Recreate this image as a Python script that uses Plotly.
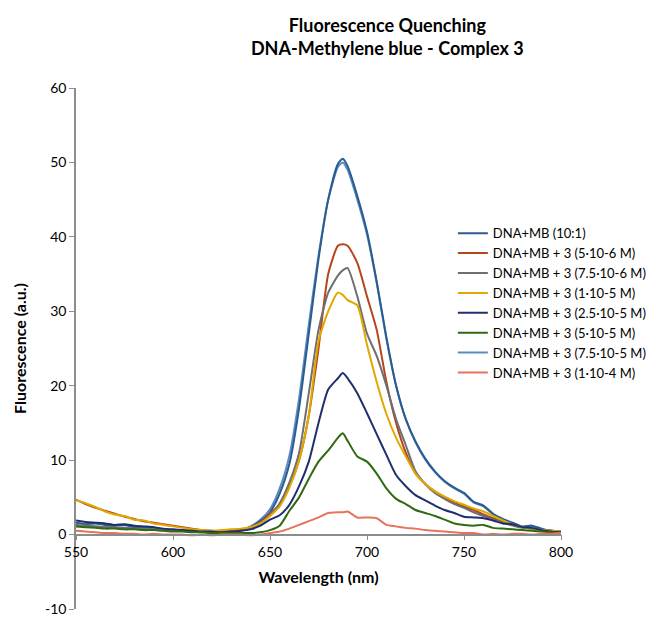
import plotly.graph_objects as go

wavelength = [550, 555, 560, 565, 570, 575, 580, 585, 590, 595, 600, 605, 610, 615, 620, 625,
              630, 635, 640, 645, 650, 655, 660, 665, 670, 675, 680, 685, 687.5, 690, 695, 700,
              705, 710, 715, 720, 725, 730, 735, 740, 745, 750, 755, 760, 765, 770, 775, 780,
              785, 790, 795, 800]

dna_mb = [1.6, 1.4, 1.5, 1.3, 1.2, 1.3, 1.0, 0.9, 0.9, 0.7, 0.6, 0.5, 0.5, 0.4, 0.4, 0.4,
          0.5, 0.6, 1.0, 1.8, 3.0, 5.5, 9.5, 17.0, 27.0, 37.0, 45.0, 49.8, 50.5, 49.5, 45.5, 40.7,
          34.0, 26.5, 20.0, 15.5, 12.5, 10.2, 8.5, 7.2, 6.3, 5.6, 4.4, 3.9, 2.8, 2.1, 1.6, 1.1,
          1.2, 0.8, 0.5, 0.4]

c_5e6 = [4.7, 4.1, 3.6, 3.2, 2.8, 2.4, 2.1, 1.8, 1.6, 1.4, 1.2, 1.0, 0.8, 0.6, 0.5, 0.5,
         0.6, 0.7, 1.0, 1.6, 2.8, 4.0, 6.5, 10.0, 16.0, 25.0, 35.0, 38.8, 39.0, 38.8, 36.5, 32.0,
         27.5, 20.5, 15.0, 11.0, 8.2, 6.8, 5.8, 5.0, 4.3, 3.8, 3.3, 2.7, 2.2, 1.7, 1.3, 1.0,
         0.8, 0.6, 0.5, 0.4]

c_75e6 = [1.3, 1.2, 1.1, 1.0, 1.0, 0.9, 0.8, 0.8, 0.7, 0.6, 0.5, 0.5, 0.4, 0.3, 0.3, 0.3,
          0.4, 0.5, 0.9, 1.5, 2.6, 4.2, 7.0, 11.0, 19.0, 27.5, 32.5, 34.8, 35.5, 35.8, 32.0, 27.0,
          24.0, 20.0, 15.5, 12.0, 8.5, 6.8, 5.6, 4.8, 4.1, 3.6, 3.0, 2.5, 2.0, 1.6, 1.2, 0.9,
          0.8, 0.6, 0.5, 0.4]

c_1e5 = [4.6, 4.2, 3.7, 3.1, 2.7, 2.5, 2.0, 1.9, 1.5, 1.3, 1.1, 0.9, 0.7, 0.6, 0.5, 0.6,
         0.7, 0.8, 1.0, 1.5, 2.5, 3.8, 6.3, 10.0, 16.0, 26.0, 30.0, 32.5, 32.2, 31.5, 30.8, 25.5,
         20.5, 16.2, 13.0, 10.5, 8.2, 6.8, 5.8, 5.1, 4.5, 4.0, 3.5, 3.1, 2.5, 1.9, 1.4, 1.0,
         0.8, 0.6, 0.5, 0.4]

c_25e5 = [1.9, 1.7, 1.6, 1.5, 1.3, 1.4, 1.2, 1.1, 1.0, 0.8, 0.7, 0.6, 0.5, 0.4, 0.4, 0.3,
          0.4, 0.5, 0.7, 1.2, 2.0, 2.6, 4.0, 6.5, 9.8, 15.0, 19.5, 21.0, 21.7, 21.0, 19.0, 16.3,
          13.5, 10.7, 8.0, 6.5, 5.3, 4.6, 3.9, 3.3, 2.9, 2.4, 2.3, 2.2, 1.9, 1.5, 1.4, 1.0,
          0.9, 0.6, 0.4, 0.3]

c_5e5 = [1.1, 1.0, 0.9, 0.8, 0.8, 0.7, 0.7, 0.6, 0.6, 0.5, 0.4, 0.4, 0.3, 0.3, 0.2, 0.2,
         0.2, 0.2, 0.2, 0.3, 0.6, 1.2, 3.2, 5.0, 7.5, 9.8, 11.3, 13.0, 13.6, 12.6, 10.5, 9.8,
         8.2, 6.2, 4.8, 4.1, 3.3, 2.9, 2.5, 2.0, 1.5, 1.3, 1.2, 1.3, 0.9, 0.8, 0.7, 0.6,
         0.5, 0.4, 0.3, 0.2]

c_75e5 = [1.2, 1.1, 1.1, 1.0, 0.9, 0.9, 0.8, 0.7, 0.7, 0.6, 0.5, 0.5, 0.4, 0.4, 0.3, 0.3,
          0.4, 0.6, 1.1, 2.0, 3.4, 6.2, 10.6, 18.3, 28.2, 37.5, 45.0, 49.4, 50.0, 49.0, 45.0, 40.3,
          33.8, 26.3, 20.0, 15.5, 12.4, 10.1, 8.4, 7.1, 6.2, 5.5, 4.3, 3.8, 2.7, 2.0, 1.5, 1.0,
          1.1, 0.7, 0.5, 0.4]

c_1e4 = [0.5, 0.4, 0.3, 0.2, 0.2, 0.1, 0.1, 0.0, 0.1, 0.0, 0.0, 0.0, -0.1, 0.0, -0.1, 0.0,
         0.0, 0.0, -0.1, 0.0, 0.2, 0.4, 0.8, 1.3, 1.8, 2.3, 2.9, 3.0, 3.0, 3.1, 2.3, 2.3,
         2.2, 1.3, 1.1, 0.9, 0.8, 0.6, 0.5, 0.4, 0.3, 0.2, 0.2, 0.0, 0.1, 0.0, 0.1, 0.1,
         0.0, 0.1, 0.1, 0.2]

series_names = ["DNA+MB (10:1)", "DNA+MB + 3 (5·10-6 M)", "DNA+MB + 3 (7.5·10-6 M)",
                "DNA+MB + 3 (1·10-5 M)", "DNA+MB + 3 (2.5·10-5 M)", "DNA+MB + 3 (5·10-5 M)",
                "DNA+MB + 3 (7.5·10-5 M)", "DNA+MB + 3 (1·10-4 M)"]
series_values = [dna_mb, c_5e6, c_75e6, c_1e5, c_25e5, c_5e5, c_75e5, c_1e4]
series_colors = ["#2A5C8E", "#B5451B", "#6F6F6F", "#E0A800", "#1F2F6E", "#2F6A12",
                 "#5B8BC4", "#E8735A"]
draw_order = [6, 0, 1, 2, 3, 4, 5, 7]

x_ticks = [550, 600, 650, 700, 750, 800]
y_ticks = [-10, 0, 10, 20, 30, 40, 50, 60]

FONT = "Lato"

fig = go.Figure()
for i in range(len(series_names)):
    fig.add_trace(go.Scatter(x=wavelength, y=series_values[i], mode="lines",
                             name=series_names[i], legendrank=i + 1,
                             line=dict(color=series_colors[i], width=2, shape="spline",
                                       smoothing=0.6)))
# light-blue series drawn first so that it lies underneath the reference curve
fig.data = tuple(fig.data[i] for i in draw_order)

fig.update_layout(
    width=654, height=628,
    margin=dict(l=68, r=101, t=80, b=27, autoexpand=False),
    paper_bgcolor="white", plot_bgcolor="white",
    font=dict(family=FONT, color="#000000"),
    title=dict(text="<b>Fluorescence Quenching<br>DNA-Methylene blue - Complex 3</b>",
               xref="container", x=0.58, xanchor="center",
               yref="container", y=0.962, yanchor="top",
               font=dict(family=FONT, size=18, color="#000000")),
    showlegend=True,
    legend=dict(x=0.777, y=0.75, xanchor="left", yanchor="top", bgcolor="rgba(0,0,0,0)",
                font=dict(family=FONT, size=13, color="#000000"), itemwidth=30,
                tracegroupgap=0, traceorder="normal"),
    xaxis=dict(range=[550, 800], tickvals=x_ticks, ticktext=[str(t) for t in x_ticks],
               anchor="free", position=10 / 70, showgrid=False, zeroline=False,
               showline=True, linecolor="#8C8C8C", linewidth=1.5,
               ticks="outside", ticklen=5, tickcolor="#8C8C8C",
               tickfont=dict(family=FONT, size=14, color="#000000"),
               title=dict(text="<b>Wavelength (nm)</b>", font=dict(family=FONT, size=16),
                          standoff=12)),
    yaxis=dict(range=[-10, 60], tickvals=y_ticks, ticktext=[str(t) for t in y_ticks],
               showgrid=False, zeroline=False, showline=True, linecolor="#8C8C8C",
               linewidth=1.5, ticks="outside", ticklen=5, tickcolor="#8C8C8C",
               tickfont=dict(family=FONT, size=14, color="#000000"),
               title=dict(text="<b>Fluorescence (a.u.)</b>", font=dict(family=FONT, size=16),
                          standoff=14)),
)

fig.write_html("out.html")
